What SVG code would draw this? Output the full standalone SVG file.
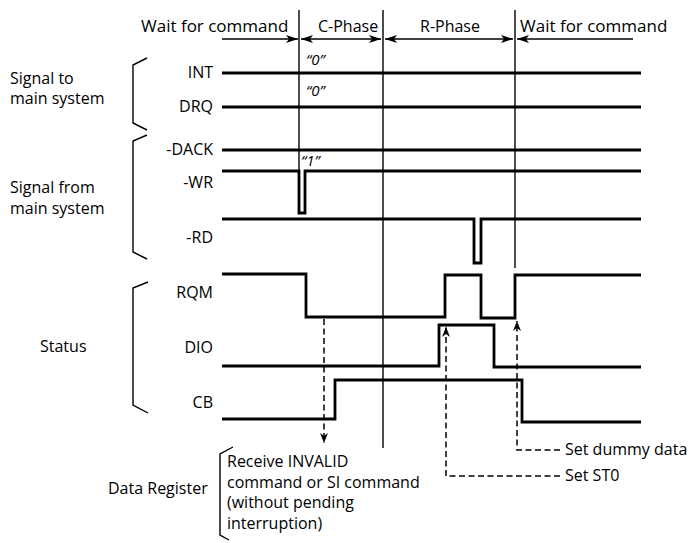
<svg xmlns="http://www.w3.org/2000/svg" width="696" height="543" viewBox="0 0 696 543">
<style>
text { font-family: "Open Sans", "Noto Sans", "DejaVu Sans", sans-serif; font-size: 16px; fill: #000; }
.hd { font-size: 17px; }
.lbl { text-anchor: end; font-size: 16px; }
.q { font-size: 15px; font-style: italic; }
.wave { fill: none; stroke: #000; stroke-width: 2.8; stroke-linejoin: miter; stroke-linecap: butt; }
.phase { stroke: #000; stroke-width: 1.4; fill: none; }
.arr { stroke: #000; stroke-width: 1.3; fill: none; }
.dash { stroke: #000; stroke-width: 1.5; fill: none; stroke-dasharray: 6 3.5; }
.br { stroke: #000; stroke-width: 1.4; fill: none; }
</style>
<defs>
<marker id="ah" viewBox="0 0 12 8" refX="12" refY="4" markerWidth="12" markerHeight="8" markerUnits="userSpaceOnUse" orient="auto-start-reverse">
<path d="M0,0 L12,4 L0,8 L3,4 z" fill="#000"/>
</marker>
<marker id="dh" viewBox="0 0 10 8" refX="10" refY="4" markerWidth="10" markerHeight="8" markerUnits="userSpaceOnUse" orient="auto">
<path d="M0,0 L10,4 L0,8 L3,4 z" fill="#000"/>
</marker>
</defs>
<rect width="696" height="543" fill="#fff"/>

<g id="phases">
<text class="hd" x="141" y="32">Wait for command</text>
<text x="318" y="32">C-Phase</text>
<text x="420" y="32">R-Phase</text>
<text class="hd" x="520" y="32">Wait for command</text>
<path class="phase" d="M299,10 V171"/>
<path class="phase" d="M383,10 V448"/>
<path class="phase" d="M515,10 V268"/>
<line class="arr" x1="222" y1="39" x2="298" y2="39" marker-end="url(#ah)"/>
<line class="arr" x1="301" y1="39" x2="381" y2="39" marker-start="url(#ah)" marker-end="url(#ah)"/>
<line class="arr" x1="385" y1="39" x2="513" y2="39" marker-start="url(#ah)" marker-end="url(#ah)"/>
<line class="arr" x1="633" y1="39" x2="517" y2="39" marker-end="url(#ah)"/>
</g>

<g id="group-to-main">
<text x="10" y="83.5">Signal to</text>
<text x="10" y="104">main system</text>
<path class="br" d="M147,58 L133,65 V123 L147,130"/>
</g>
<g id="sig-int">
<text class="lbl" x="213" y="78">INT</text>
<path class="wave" d="M222,73 H641"/>
<text class="q" x="306" y="65">“0”</text>
</g>
<g id="sig-drq">
<text class="lbl" x="213" y="112">DRQ</text>
<path class="wave" d="M222,107 H641"/>
<text class="q" x="306" y="96">“0”</text>
</g>

<g id="group-from-main">
<text x="10" y="193">Signal from</text>
<text x="10" y="213.5">main system</text>
<path class="br" d="M147,135 L133,141 V252 L147,259"/>
</g>
<g id="sig-dack">
<text class="lbl" x="213" y="155">-DACK</text>
<path class="wave" d="M222,150 H641"/>
<text class="q" x="301" y="166">“1”</text>
</g>
<g id="sig-wr">
<text class="lbl" x="213" y="188">-WR</text>
<path class="wave" d="M222,171 H299 V213 H305 V171 H641"/>
</g>
<g id="sig-rd">
<text class="lbl" x="213" y="243">-RD</text>
<path class="wave" d="M222,219 H474 V263 H481 V219 H641"/>
</g>

<g id="group-status">
<text x="40" y="352">Status</text>
<path class="br" d="M148,282 L133,288 V405 L148,413"/>
</g>
<g id="sig-rqm">
<text class="lbl" x="213" y="298">RQM</text>
<path class="wave" d="M222,274 H306 V317 H445 V275 H481 V318 H515 V275 H641"/>
</g>
<g id="sig-dio">
<text class="lbl" x="213" y="353">DIO</text>
<path class="wave" d="M222,366 H439 V325 H494 V367 H641"/>
</g>
<g id="sig-cb">
<text class="lbl" x="213" y="408">CB</text>
<path class="wave" d="M222,419 H335 V380 H522 V422 H641"/>
</g>

<g id="data-register">
<text x="108" y="494">Data Register</text>
<path class="br" d="M233,447 L220,454 V535 L229,540"/>
<text x="227" y="467">Receive INVALID</text>
<text x="227" y="487.5">command or SI command</text>
<text x="227" y="508">(without pending</text>
<text x="227" y="528.5">interruption)</text>
</g>

<g id="connectors">
<path class="dash" d="M324,319 V443" marker-end="url(#dh)"/>
<path class="dash" d="M560,476 H446 V327" marker-end="url(#dh)"/>
<path class="dash" d="M560,450 H517 V321" marker-end="url(#dh)"/>
<text x="565" y="455">Set dummy data</text>
<text x="565" y="481">Set ST0</text>
</g>
</svg>
